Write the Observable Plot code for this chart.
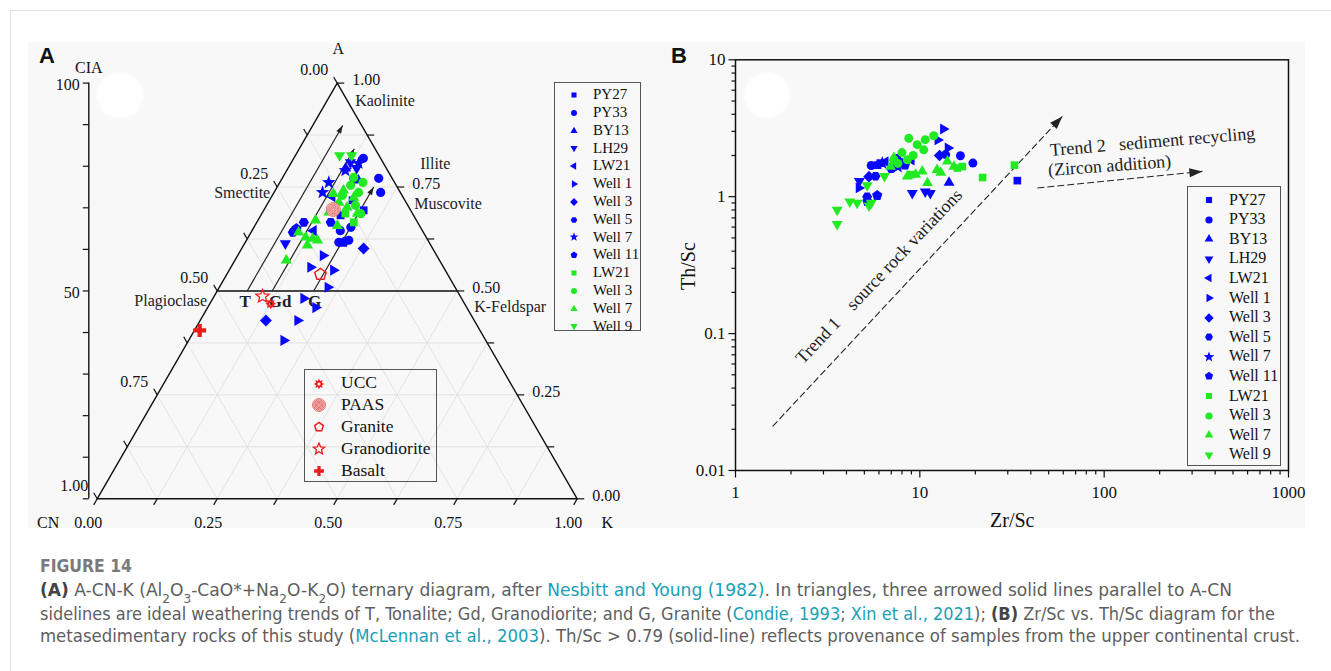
<!DOCTYPE html>
<html>
<head>
<meta charset="utf-8">
<script src="https://cdn.jsdelivr.net/npm/d3@7"></script>
<script src="https://cdn.jsdelivr.net/npm/@observablehq/plot@0.6"></script>
<style>
html,body{margin:0;padding:0;background:#fff;}
#page{position:relative;width:1331px;height:671px;overflow:hidden;font-family:"Liberation Serif","Times New Roman",serif;color:#111;}
.abs{position:absolute;}
#card{left:10px;top:10px;width:1330px;height:670px;border-left:1px solid #e2e2e2;border-top:1px solid #e2e2e2;}
#fig{left:28px;top:42px;width:1277px;height:486px;background:#f8f8f8;}
.blob{width:46px;height:46px;border-radius:50%;background:#fff;filter:blur(1.5px);}
.panel{font-family:"Liberation Sans",Arial,sans-serif;font-weight:bold;font-size:22px;line-height:1;}
.legend{border:1.3px solid #555;box-sizing:border-box;}
.legend .item{position:absolute;white-space:nowrap;line-height:1;}
.atitle{font-size:20px;line-height:1;white-space:nowrap;}
</style>
</head>
<body>
<div id="page">
  <div id="card" class="abs"></div>
  <div id="fig" class="abs"></div>
  <div class="abs blob" style="left:97px;top:72px"></div>
  <div class="abs blob" style="left:744px;top:72px"></div>
  <div class="abs panel" style="left:39px;top:45px">A</div>
  <div class="abs panel" style="left:671px;top:45px">B</div>
  <div class="abs atitle" style="left:668px;top:260px;transform:rotate(-90deg);transform-origin:20px 10px;">Th/Sc</div>
  <div class="abs atitle" style="left:990px;top:510px;">Zr/Sc</div>
  <svg class="abs" style="left:0;top:540px" width="1331" height="131" font-family="'Liberation Sans Narrow','DejaVu Sans Condensed','Roboto Condensed','Liberation Sans',sans-serif">
    <text x="40" y="32" font-size="17" font-weight="600" fill="#7a7a7a" textLength="92" lengthAdjust="spacingAndGlyphs">FIGURE 14</text>
    <text x="40" y="56" font-size="17" fill="#5e5e5e" textLength="1192" lengthAdjust="spacingAndGlyphs"><tspan font-weight="bold" fill="#444">(A)</tspan> A-CN-K (Al<tspan baseline-shift="sub" font-size="12">2</tspan>O<tspan baseline-shift="sub" font-size="12">3</tspan>-CaO*+Na<tspan baseline-shift="sub" font-size="12">2</tspan>O-K<tspan baseline-shift="sub" font-size="12">2</tspan>O) ternary diagram, after <tspan fill="#1aa0b5">Nesbitt and Young (1982)</tspan>. In triangles, three arrowed solid lines parallel to A-CN</text>
    <text x="40" y="80" font-size="17" fill="#5e5e5e" textLength="1235" lengthAdjust="spacingAndGlyphs">sidelines are ideal weathering trends of T, Tonalite; Gd, Granodiorite; and G, Granite (<tspan fill="#1aa0b5">Condie, 1993</tspan>; <tspan fill="#1aa0b5">Xin et al., 2021</tspan>); <tspan font-weight="bold" fill="#444">(B)</tspan> Zr/Sc vs. Th/Sc diagram for the</text>
    <text x="40" y="102" font-size="17" fill="#5e5e5e" textLength="1260" lengthAdjust="spacingAndGlyphs">metasedimentary rocks of this study (<tspan fill="#1aa0b5">McLennan et al., 2003</tspan>). Th/Sc &gt; 0.79 (solid-line) reflects provenance of samples from the upper continental crust.</text>
  </svg>
</div>
<script>
// ================= DATA =================
// Series (legend order)
const seriesNames  = ["PY27","PY33","BY13","LH29","LW21","Well 1","Well 3","Well 5","Well 7","Well 11","LW21","Well 3","Well 7","Well 9"];
const seriesShapes = ["square","circle","triangle","triangleDown","triangleLeft","triangleRight","diamond","hexagon","star","pentagon","square","circle","triangle","triangleDown"];
const seriesGroup  = ["blue","blue","blue","blue","blue","blue","blue","blue","blue","blue","green","green","green","green"];

// Panel A: A-CN-K compositions as [A, K] mole fractions (CN = 1 - A - K)
const triPY27   = [[0.718,0.173],[0.682,0.166],[0.694,0.208]];
const triPY33   = [[0.819,0.145],[0.771,0.201],[0.737,0.222],[0.771,0.149],[0.645,0.184],[0.617,0.195],[0.622,0.213],[0.653,0.202]];
const triBY13   = [[0.795,0.120],[0.766,0.161]];
const triLH29   = [[0.809,0.123],[0.614,0.085],[0.795,0.143]];
const triLW21   = [[0.645,0.128],[0.727,0.126]];
const triWell1  = [[0.585,0.178],[0.557,0.166],[0.550,0.217],[0.509,0.226],[0.482,0.189],[0.460,0.225],[0.429,0.203],[0.381,0.198]];
const triWell3  = [[0.602,0.254],[0.429,0.137]];
const triWell5  = [[0.665,0.098],[0.641,0.087],[0.665,0.154]];
const triWell7  = [[0.761,0.102],[0.737,0.101],[0.790,0.122],[0.807,0.141]];
const triWell11 = [[0.617,0.205],[0.650,0.090]];
const triLW21g  = [[0.686,0.174],[0.665,0.202]];
const triWell3g = [[0.773,0.148],[0.761,0.173],[0.737,0.176],[0.754,0.151],[0.706,0.185],[0.686,0.206],[0.730,0.146]];
const triWell7g = [[0.734,0.125],[0.713,0.147],[0.742,0.142],[0.725,0.172],[0.701,0.170],[0.686,0.199],[0.689,0.138],[0.670,0.120],[0.629,0.120],[0.626,0.136],[0.610,0.133],[0.641,0.099],[0.622,0.148],[0.574,0.107],[0.657,0.172]];
const triWell9g = [[0.826,0.092],[0.826,0.117]];

// Reference compositions
const refNames = ["UCC","PAAS","Granite","Granodiorite","Basalt"];
const refA     = [0.469,0.696,0.540,0.487,0.405];
const refK     = [0.127,0.144,0.195,0.101,0.011];

// Weathering trends (start at A = 0.5)
const trendLabels = ["T","Gd","G"];
const trendK      = [0.0625,0.1146,0.201];
const trendAEnd   = [0.898,0.842,0.750];

// Ternary axis ticks and mineral labels
const ternTicks  = [0,0.125,0.25,0.375,0.5,0.625,0.75,0.875,1];
const ternLabels = [0,0.25,0.5,0.75,1];
const ciaTicks   = [0,10,20,30,40,50,60,70,80,90,100];
const ciaLabels  = [100,50];
const mineralNames = ["Kaolinite","Illite","Muscovite","Smectite","Plagioclase","K-Feldspar"];
const mineralA     = [1,0.75,0.75,0.75,0.5,0.5];
const mineralSide  = ["right","right","right","left","left","right"];

// Panel B: [Zr/Sc, Th/Sc]
const zrPY27   = [[33.8,1.31],[6.1,1.76],[5.9,1.70]];
const zrPY33   = [[5.45,1.69],[16.6,1.99],[19.4,1.76],[13.8,2.03],[7.5,1.90]];
const zrBY13   = [[14.4,1.27],[8.0,1.75]];
const zrLH29   = [[9.1,1.06],[10.7,1.09],[11.4,1.06],[4.7,1.30]];
const zrLW21   = [[6.5,1.80],[9.0,1.85]];
const zrWell1  = [[4.67,1.16],[13.4,3.12],[14.2,2.27],[12.5,2.60]];
const zrWell3  = [[5.3,1.40],[12.8,2.00]];
const zrWell5  = [[5.18,1.00],[5.75,1.41],[7.0,1.60]];
const zrWell7  = [[6.25,1.76],[7.6,1.65]];
const zrWell11 = [[5.87,1.02],[5.2,0.92],[8.3,1.70]];
const zrLW21g  = [[32.6,1.70],[21.9,1.38],[17.0,1.66],[16.0,1.62],[9.0,1.45]];
const zrWell3g = [[8.71,2.67],[9.68,2.40],[10.7,2.61],[11.9,2.79],[10.5,2.20],[8.55,1.86],[7.23,1.86],[8.0,2.10],[9.2,2.00],[7.6,1.75]];
const zrWell7g = [[11.0,1.26],[8.55,1.41],[10.3,1.53],[12.4,1.57],[14.1,1.81],[15.3,1.66],[7.23,1.92],[6.93,1.66],[9.5,1.45],[13.0,1.50]];
const zrWell9g = [[3.56,0.80],[3.56,0.63],[4.17,0.92],[4.57,0.90],[5.18,1.21],[5.45,0.90],[6.43,1.41],[5.3,0.86]];

// Trend arrows in B: [[Zr/Sc, Th/Sc] start, end]
const trend1 = [[1.59,0.021],[59.3,3.86]];
const trend2 = [[43.4,1.158],[341,1.53]];
const trendNotes = ["Trend 1\u00a0\u00a0\u00a0 source rock variations","Trend 2\u00a0\u00a0 sediment recycling","(Zircon addition)"];
const trendNoteX = [6.0,183,107];
const trendNoteY = [0.262,2.52,1.684];

const xMajor = [1,10,100,1000];
const yMajor = [0.01,0.1,1,10];

// ================= STYLE / SYMBOLS =================
const COLORS = {blue:"#0707ff", green:"#22ea22"};
const RED = "#ee1c1c";
function poly(n,rot,k){return {draw(c,s){const R=Math.sqrt(s/Math.PI)*k;for(let i=0;i<n;i++){const a=rot+2*Math.PI*i/n,x=R*Math.sin(a),y=-R*Math.cos(a);if(i)c.lineTo(x,y);else c.moveTo(x,y);}c.closePath();}};}
function starSym(k,inner){return {draw(c,s){const R=Math.sqrt(s/Math.PI)*k;for(let i=0;i<10;i++){const rr=i%2?R*inner:R,a=Math.PI*i/5,x=rr*Math.sin(a),y=-rr*Math.cos(a);if(i)c.lineTo(x,y);else c.moveTo(x,y);}c.closePath();}};}
const circleSym={draw(c,s){const r=Math.sqrt(s/Math.PI);c.moveTo(r,0);c.arc(0,0,r,0,2*Math.PI);c.closePath();}};
const gearSym={draw(c,s){const R=Math.sqrt(s/Math.PI)*1.35,n=8;for(let i=0;i<2*n;i++){const rr=i%2?R*0.62:R,a=Math.PI*i/n,x=rr*Math.sin(a),y=-rr*Math.cos(a);if(i)c.lineTo(x,y);else c.moveTo(x,y);}c.closePath();const h=R*0.3;c.moveTo(h,0);c.arc(0,0,h,0,2*Math.PI,true);c.closePath();}};
const ringSym={draw(c,s){const R=Math.sqrt(s/Math.PI);for(const f of [1,0.8,0.6,0.4,0.2]){c.moveTo(R*f,0);c.arc(0,0,R*f,0,2*Math.PI);}}};
const plusSym={draw(c,s){const R=Math.sqrt(s/Math.PI)*1.3,w=R*0.33;c.moveTo(-w,-R);c.lineTo(w,-R);c.lineTo(w,-w);c.lineTo(R,-w);c.lineTo(R,w);c.lineTo(w,w);c.lineTo(w,R);c.lineTo(-w,R);c.lineTo(-w,w);c.lineTo(-R,w);c.lineTo(-R,-w);c.lineTo(-w,-w);c.closePath();}};
const segSym=(dx,dy)=>({draw(c){c.moveTo(0,0);c.lineTo(dx,dy);}});
function headSym(deg,L,W){const t=deg*Math.PI/180,ux=Math.sin(t),uy=-Math.cos(t),px=-uy,py=ux;return {draw(c){c.moveTo(0,0);c.lineTo(-L*ux+W*px,-L*uy+W*py);c.lineTo(-L*ux-W*px,-L*uy-W*py);c.closePath();}};}
const SHAPES={
  square:poly(4,Math.PI/4,1.2), circle:circleSym, triangle:poly(3,0,1.4), triangleDown:poly(3,Math.PI,1.4),
  triangleLeft:poly(3,-Math.PI/2,1.4), triangleRight:poly(3,Math.PI/2,1.4), diamond:poly(4,0,1.3),
  hexagon:poly(6,Math.PI/6,1.1), star:starSym(1.55,0.42), pentagon:poly(5,0,1.2)
};
const REFSTYLE={
  UCC:{sym:gearSym,fill:RED,stroke:"none",sw:0,r:4},
  PAAS:{sym:ringSym,fill:"#f6d4d4",stroke:"#e04848",sw:0.7,r:7},
  Granite:{sym:poly(5,0,1.2),fill:"none",stroke:RED,sw:1.5,r:5},
  Granodiorite:{sym:starSym(1.55,0.45),fill:"none",stroke:RED,sw:1.3,r:4.5},
  Basalt:{sym:plusSym,fill:RED,stroke:"none",sw:0,r:5}
};
const SERIF="'Liberation Serif','Times New Roman',serif";
const page=document.getElementById("page");
function place(el,l,t){el.style.position="absolute";el.style.left=l+"px";el.style.top=t+"px";el.style.maxWidth="none";page.appendChild(el);}

// ================= PANEL A (ternary) =================
const S3=Math.sqrt(3)/2;
const tern=(A,K)=>({x:K+A/2,y:A*S3});
const triData=[triPY27,triPY33,triBY13,triLH29,triLW21,triWell1,triWell3,triWell5,triWell7,triWell11,triLW21g,triWell3g,triWell7g,triWell9g];
const gridLev=ternTicks.filter(t=>t>0&&t<1);
const gridSegs=gridLev.flatMap(t=>[[tern(t,0),tern(t,1-t)],[tern(0,t),tern(1-t,t)],[tern(0,1-t),tern(1-t,0)]]);
const fmt=d3.format(".2f");
const CIA_X=-0.0175;
const trends=trendLabels.map((l,i)=>({label:l,k:trendK[i],a1:trendAEnd[i]}));
const refs=refNames.map((n,i)=>({name:n,A:refA[i],K:refK[i]}));
const lx=c=>tern(1-c,0).x, ly=c=>tern(1-c,0).y;
const bx=k=>tern(0,k).x;
const rx=a=>tern(a,1-a).x, ry=a=>tern(a,1-a).y;
const tickStyle={fill:"none",stroke:"#111",strokeWidth:1.2};
const mineralOffsets=[[18,18],[23,-23],[17,17],[-7,6],[-10,10],[17,16]];
const trendLabelDx=[-2,8,1];
const LBL=16;

const marksA=[
  Plot.link(gridSegs,{x1:d=>d[0].x,y1:d=>d[0].y,x2:d=>d[1].x,y2:d=>d[1].y,stroke:"#dcdcdc",strokeWidth:0.8}),
  Plot.line([tern(1,0),tern(0,0),tern(0,1),tern(1,0)],{x:"x",y:"y",stroke:"#111",strokeWidth:1.4}),
  Plot.link([0.5],{x1:a=>tern(a,0).x,y1:a=>tern(a,0).y,x2:a=>tern(a,1-a).x,y2:a=>tern(a,1-a).y,stroke:"#111",strokeWidth:1.4}),
  Plot.dot(ternTicks,{x:lx,y:ly,symbol:segSym(-3.5,-6.1),...tickStyle}),
  Plot.dot(ternTicks,{x:bx,y:()=>0,symbol:segSym(-3.5,6.1),...tickStyle}),
  Plot.dot(ternTicks,{x:rx,y:ry,symbol:segSym(7,0),...tickStyle}),
  Plot.text(ternLabels,{x:lx,y:ly,text:d=>fmt(d),textAnchor:"end",dx:-9,dy:-13,fontSize:LBL,fill:"#111"}),
  Plot.text(ternLabels,{x:bx,y:()=>0,text:d=>fmt(d),dx:-9,dy:24,fontSize:LBL,fill:"#111"}),
  Plot.text(ternLabels,{x:rx,y:ry,text:d=>fmt(d),textAnchor:"start",dx:15,dy:-3,fontSize:LBL,fill:"#111"}),
  // CIA axis
  Plot.ruleX([CIA_X],{y1:0,y2:S3,stroke:"#111",strokeWidth:1.4}),
  Plot.dot(ciaTicks,{x:()=>CIA_X,y:v=>v/100*S3,symbol:segSym(-6,0),...tickStyle}),
  Plot.text(ciaLabels,{x:()=>CIA_X,y:v=>v/100*S3,text:d=>String(d),textAnchor:"end",dx:-9,dy:2,fontSize:LBL,fill:"#111"}),
  Plot.text(["CIA"],{x:()=>CIA_X,y:()=>S3,text:d=>d,dy:-15,fontSize:LBL,fill:"#111"}),
  Plot.text(["A"],{x:()=>0.5,y:()=>S3,text:d=>d,dy:-34,dx:1,fontSize:LBL,fill:"#111"}),
  Plot.text(["CN"],{x:()=>0,y:()=>0,text:d=>d,dx:-49,dy:24,fontSize:LBL,fill:"#111"}),
  Plot.text(["K"],{x:()=>1,y:()=>0,text:d=>d,dx:30,dy:24,fontSize:LBL,fill:"#111"}),
  ...mineralNames.map((n,i)=>Plot.text([n],{x:()=>tern(mineralA[i],mineralSide[i]==="right"?1-mineralA[i]:0).x,y:()=>mineralA[i]*S3,text:d=>d,textAnchor:mineralSide[i]==="right"?"start":"end",dx:mineralOffsets[i][0],dy:mineralOffsets[i][1],fontSize:LBL,fill:"#222"})),
  // weathering trends
  Plot.link(trends,{x1:d=>tern(0.5,d.k).x,y1:d=>tern(0.5,d.k).y,x2:d=>tern(d.a1,d.k).x,y2:d=>tern(d.a1,d.k).y,stroke:"#222",strokeWidth:1.2}),
  Plot.dot(trends,{x:d=>tern(d.a1,d.k).x,y:d=>tern(d.a1,d.k).y,symbol:headSym(30,8,2.7),fill:"#222",stroke:"none"}),
  ...trends.map((d,i)=>Plot.text([d],{x:e=>tern(0.5,e.k).x,y:e=>tern(0.5,e.k).y,text:"label",dx:trendLabelDx[i],dy:11,fontSize:17,fontWeight:"bold",fill:"#222"})),
  // samples
  ...triData.map((arr,i)=>Plot.dot(arr,{x:d=>tern(d[0],d[1]).x,y:d=>tern(d[0],d[1]).y,symbol:SHAPES[seriesShapes[i]],fill:COLORS[seriesGroup[i]],stroke:"none",r:4.6})),
  // references
  ...refs.map(d=>{const s=REFSTYLE[d.name];return Plot.dot([d],{x:e=>tern(e.A,e.K).x,y:e=>tern(e.A,e.K).y,symbol:s.sym,fill:s.fill,stroke:s.stroke,strokeWidth:s.sw,r:s.r});})
];

const plotA=Plot.plot({
  width:640,height:510,margin:0,
  x:{domain:[0,1],range:[96.7-20,576.7-20],axis:null},
  y:{domain:[0,S3],range:[498.3-30,82.6-30],axis:null},
  style:{background:"transparent",overflow:"visible",fontFamily:SERIF,fontSize:"17px",color:"#111"},
  marks:marksA
});
place(plotA,20,30);

// ================= PANEL B (log-log) =================
const zrData=[zrPY27,zrPY33,zrBY13,zrLH29,zrLW21,zrWell1,zrWell3,zrWell5,zrWell7,zrWell11,zrLW21g,zrWell3g,zrWell7g,zrWell9g];
const xMinor=[1,10,100].flatMap(d=>[2,3,4,5,6,7,8,9].map(m=>d*m));
const yMinor=[0.01,0.1,1].flatMap(d=>[2,3,4,5,6,7,8,9].map(m=>+(d*m).toPrecision(3)));
const noteAngles=[-46.5,-4.7,-4.2];
const plotB=Plot.plot({
  width:660,height:510,marginLeft:75,marginRight:32,marginTop:29.3,marginBottom:70,
  x:{type:"log",domain:[1,1000],axis:null},
  y:{type:"log",domain:[0.01,10],axis:null},
  style:{background:"transparent",overflow:"visible",fontFamily:SERIF,fontSize:"17px",color:"#111"},
  marks:[
    Plot.frame({stroke:"#111",strokeWidth:1.5}),
    Plot.dot(xMinor,{x:d=>d,y:()=>0.01,symbol:segSym(0,4),...tickStyle}),
    Plot.dot(xMajor,{x:d=>d,y:()=>0.01,symbol:segSym(0,7),...tickStyle}),
    Plot.dot(yMinor,{x:()=>1,y:d=>d,symbol:segSym(-4,0),...tickStyle}),
    Plot.dot(yMajor,{x:()=>1,y:d=>d,symbol:segSym(-7,0),...tickStyle}),
    Plot.text(xMajor,{x:d=>d,y:()=>0.01,text:d=>String(d),dy:22,fontSize:17,fill:"#111"}),
    Plot.text(yMajor,{x:()=>1,y:d=>d,text:d=>String(d),textAnchor:"end",dx:-10,fontSize:17,fill:"#111"}),
    Plot.link([trend1,trend2],{x1:d=>d[0][0],y1:d=>d[0][1],x2:d=>d[1][0],y2:d=>d[1][1],stroke:"#222",strokeWidth:1.1,strokeDasharray:"7,3"}),
    Plot.dot([trend1],{x:d=>d[1][0],y:d=>d[1][1],symbol:headSym(43,13,4.5),fill:"#222",stroke:"none"}),
    Plot.dot([trend2],{x:d=>d[1][0],y:d=>d[1][1],symbol:headSym(84,13,4.5),fill:"#222",stroke:"none"}),
    ...trendNotes.map((t,i)=>Plot.text([t],{x:()=>trendNoteX[i],y:()=>trendNoteY[i],text:d=>d,rotate:noteAngles[i],fontSize:18,fill:"#222"})),
    ...zrData.map((arr,i)=>Plot.dot(arr,{x:d=>d[0],y:d=>d[1],symbol:SHAPES[seriesShapes[i]],fill:COLORS[seriesGroup[i]],stroke:"none",r:4.5}))
  ]
});
place(plotB,660,30);

// ================= LEGENDS =================
function makeLegend(items,o){
  const box=document.createElement("div");
  box.className="abs legend";
  Object.assign(box.style,{left:o.left+"px",top:o.top+"px",width:o.width+"px",height:o.height+"px"});
  items.forEach((it,i)=>{
    const cy=o.y0+i*o.dy;
    const svg=d3.create("svg").attr("width",24).attr("height",24)
      .style("position","absolute").style("left",(o.symX-12)+"px").style("top",(cy-12)+"px").style("overflow","visible");
    svg.append("path").attr("transform","translate(12,12)")
      .attr("d",d3.symbol(it.sym,Math.PI*it.r*it.r)())
      .attr("fill",it.fill).attr("stroke",it.stroke||"none").attr("stroke-width",it.sw||0);
    box.appendChild(svg.node());
    const t=document.createElement("div");
    t.className="item"; t.textContent=it.label;
    t.style.left=o.textX+"px"; t.style.top=(cy-o.fs*0.52)+"px"; t.style.fontSize=o.fs+"px";
    box.appendChild(t);
  });
  page.appendChild(box);
}
const seriesItems=r=>seriesNames.map((n,i)=>({label:n,sym:SHAPES[seriesShapes[i]],fill:COLORS[seriesGroup[i]],r}));
makeLegend(seriesItems(3),{left:554,top:82,width:87,height:249,y0:12,dy:17.8,symX:19,textX:38,fs:15});
makeLegend(refNames.map(n=>{const s=REFSTYLE[n];return {label:n,sym:s.sym,fill:s.fill,stroke:s.stroke,sw:s.sw,r:n==="PAAS"?6.5:3.8};}),
  {left:304,top:369,width:133,height:113,y0:13.5,dy:21.8,symX:14,textX:36,fs:17.5});
makeLegend(seriesItems(3.6),{left:1187,top:186,width:94,height:280,y0:13,dy:19.6,symX:21,textX:41,fs:16});
</script>
</body>
</html>
